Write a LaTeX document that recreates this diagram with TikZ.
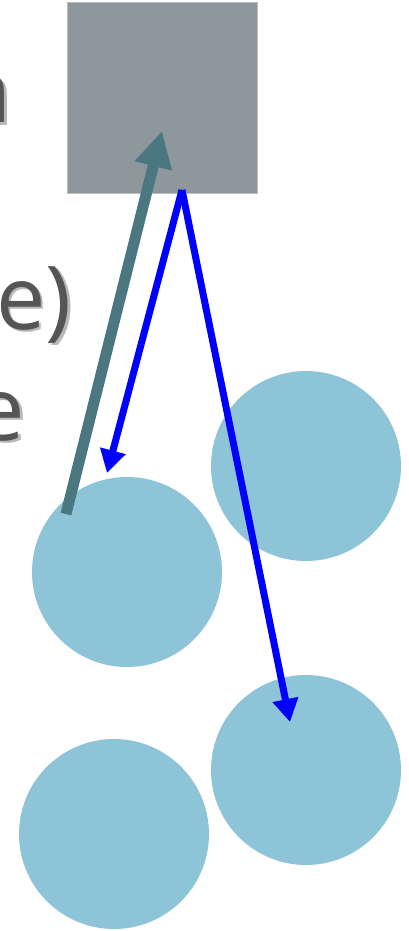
\documentclass[tikz,border=0pt]{standalone}
\usepackage{fontspec}
\newfontfamily\osans{Open Sans}
\usetikzlibrary{arrows.meta}
\definecolor{sqgray}{RGB}{142,151,155}
\definecolor{sqedge}{RGB}{185,190,192}
\definecolor{ballblue}{RGB}{142,196,216}
\definecolor{tealarrow}{RGB}{74,119,128}
\definecolor{txtgray}{RGB}{85,85,85}
\definecolor{shadowgray}{RGB}{184,184,184}
\tikzset{
  ball/.style={circle, fill=ballblue, minimum size=190pt, inner sep=0pt},
  frag/.style={font=\osans\fontsize{88}{100}\selectfont, text=txtgray, inner sep=0pt, anchor=base east},
  fragshadow/.style={frag, text=shadowgray},
  tealarr/.style={draw=tealarrow, line width=11pt, -{Triangle[length=36pt,width=36pt]}},
  bluearr/.style={draw=blue, line width=7pt, -{Triangle[length=23pt,width=25pt]}}
}
\begin{document}
\begin{tikzpicture}[x=1pt,y=-1pt]
\useasboundingbox (0,0) rectangle (408,931);
\clip (0,0) rectangle (408,931);
% text fragments (clipped at left edge)
\node[fragshadow] (t1s) at (14.5,125.5) {n};
\node[frag] (t1) at (12,123) {n};
\node[fragshadow] (t2s) at (74.5,331.5) {e)};
\node[frag] (t2) at (72,329) {e)};
\node[fragshadow] (t3s) at (28,442.5) {e};
\node[frag] (t3) at (25.5,440) {e};
% square
\node[draw=sqedge, line width=1pt, fill=sqgray, minimum width=190pt, minimum height=190pt, inner sep=0pt] (sq) at (162,98) {};
% circles
\node[ball] (c1) at (127,572) {};
\node[ball] (c2) at (306,466) {};
\node[ball] (c3) at (306,770) {};
\node[ball] (c4) at (114,834) {};
% connector ends
\coordinate (tealstart) at (66,514);
\coordinate (tealend) at (162,131);
\coordinate (bluestart) at (182,190);
\coordinate (blueend1) at (107,473);
\coordinate (blueend2) at (290,722);
\draw[tealarr] (tealstart) -- (tealend);
\draw[bluearr] (bluestart) -- (blueend1);
\draw[bluearr] (bluestart) -- (blueend2);
\end{tikzpicture}
\end{document}
